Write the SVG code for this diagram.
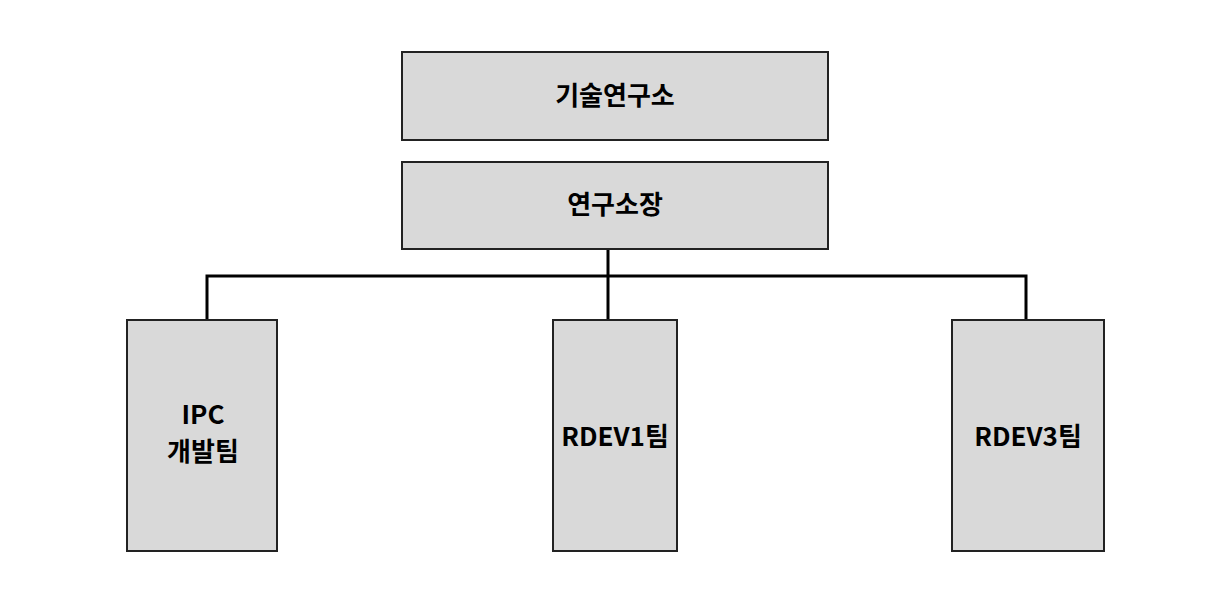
<svg xmlns="http://www.w3.org/2000/svg" width="1223" height="589" viewBox="0 0 1223 589">
<style>
.box{fill:#d9d9d9;stroke:#222;stroke-width:2}
.lbl{font-family:"Noto Sans CJK KR","Noto Sans",sans-serif;font-weight:bold;font-size:26px;fill:#000;text-anchor:middle;dominant-baseline:central}
.conn{fill:none;stroke:#000;stroke-width:3}
</style>
<rect width="1223" height="589" fill="#fff"/>
<g id="connectors">
<path class="conn" d="M608 249 V320"/>
<path class="conn" d="M207 319 V276 H1026 V319"/>
</g>
<g id="n1"><rect class="box" x="402" y="52" width="426" height="88"/><text class="lbl" x="615" y="93">기술연구소</text></g>
<g id="n2"><rect class="box" x="402" y="162" width="426" height="87"/><text class="lbl" x="615" y="202">연구소장</text></g>
<g id="n3"><rect class="box" x="127" y="320" width="150" height="231"/><text class="lbl" x="203" y="412">IPC</text><text class="lbl" x="203" y="449">개발팀</text></g>
<g id="n4"><rect class="box" x="553" y="320" width="124" height="231"/><text class="lbl" x="615" y="434">RDEV1팀</text></g>
<g id="n5"><rect class="box" x="952" y="320" width="152" height="231"/><text class="lbl" x="1028" y="434">RDEV3팀</text></g>
</svg>
